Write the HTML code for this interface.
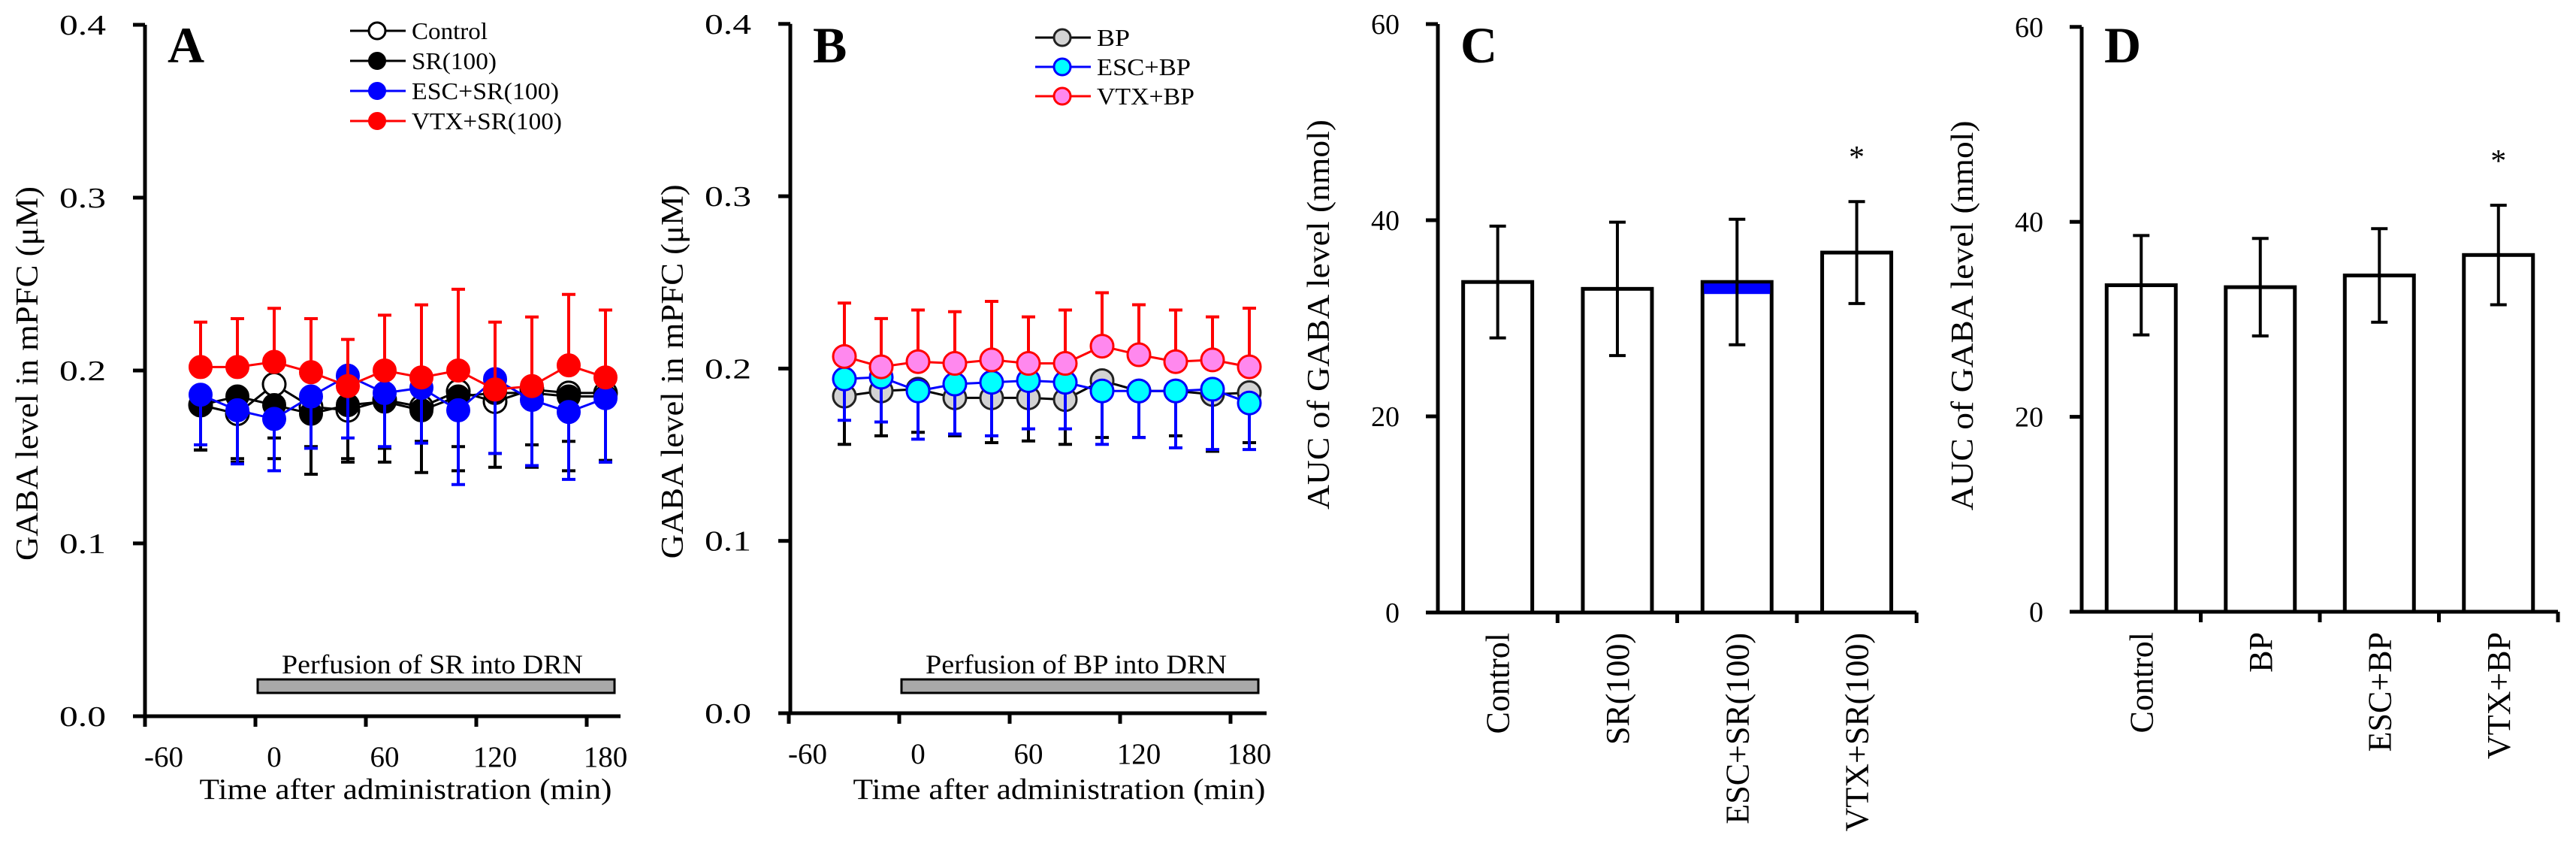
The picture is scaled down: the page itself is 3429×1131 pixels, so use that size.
<!DOCTYPE html>
<html><head><meta charset="utf-8"><style>
html,body{margin:0;padding:0;background:#fff;}
svg{display:block;font-family:"Liberation Serif",serif;}
</style></head><body>
<svg id="fig" width="3429" height="1131" viewBox="0 0 3429 1131" xmlns="http://www.w3.org/2000/svg">
<g id="pA"></g>
<g id="pB"></g>
<g id="pC"></g>
<g id="pD"></g>
</svg>
<script>
// ---------- data ----------
const times = [-40,-20,0,20,40,60,80,100,120,140,160,180];
const xTicks = [-60,0,60,120,180];
const yTicksLine = [0.0,0.1,0.2,0.3,0.4];
const yTicksBar = [0,20,40,60];
// Panel A
const aControl = [.180,.175,.192,.179,.177,.183,.179,.188,.182,.189,.187,.187];
const aControlErr = [.026,.028,.043,.023,.028,.028,.020,.046,.030,.045,.045,.040];
const aSR = [.180,.185,.180,.175,.180,.182,.177,.185,.187,.187,.185,.185];
const aSRErr = [.026,.036,.019,.035,.033,.035,.036,.029,.043,.030,.026,.037];
const aESC = [.186,.177,.172,.185,.197,.187,.190,.177,.195,.183,.176,.184];
const aESCErr = [.029,.031,.030,.030,.036,.031,.032,.043,.043,.038,.039,.037];
const aVTX = [.202,.202,.205,.199,.191,.200,.196,.200,.189,.191,.203,.196];
const aVTXErr = [.026,.028,.031,.031,.027,.032,.042,.047,.039,.040,.041,.039];
// Panel B
const bBP = [.184,.187,.188,.183,.183,.183,.182,.193,.187,.187,.185,.186];
const bBPErr = [.028,.026,.025,.022,.026,.025,.026,.033,.027,.026,.033,.029];
const bESC = [.194,.195,.187,.191,.192,.193,.192,.187,.187,.187,.188,.180];
const bESCErr = [.024,.026,.028,.029,.031,.028,.027,.031,.027,.033,.035,.027];
const bVTX = [.207,.201,.204,.203,.205,.203,.203,.213,.208,.204,.205,.201];
const bVTXErr = [.031,.028,.030,.030,.034,.027,.031,.031,.029,.030,.025,.034];
// Panel C
const cCats = ["Control","SR(100)","ESC+SR(100)","VTX+SR(100)"];
const cVals = [33.7,33.0,33.7,36.7];
const cErr = [5.7,6.8,6.4,5.2];
const cSig = [false,false,false,true];
// Panel D
const dCats = ["Control","BP","ESC+BP","VTX+BP"];
const dVals = [33.5,33.3,34.5,36.6];
const dErr = [5.1,5.0,4.8,5.1];
const dSig = [false,false,false,true];

const NS="http://www.w3.org/2000/svg";
function mk(parent,tag,attrs,txt){const e=document.createElementNS(NS,tag);for(const k in attrs)e.setAttribute(k,attrs[k]);if(txt!==undefined)e.textContent=txt;parent.appendChild(e);return e;}

function linePanel(g,o){
  const x=t=>o.x0+2.45*t, y=v=>o.y0-o.ky*v;
  let ax=mk(g,'path',{d:`M${o.ax} ${y(0.4)}V${y(0)}H${o.axEnd}`,fill:'none',stroke:'#000','stroke-width':5});
  
  yTicksLine.forEach(v=>{
    let t=mk(g,'line',{x1:o.ax-16,x2:o.ax,y1:y(v),y2:y(v),stroke:'#000','stroke-width':5});
    
    let l=mk(g,'text',{x:o.ax-52,y:y(v)+13,'text-anchor':'end','font-size':38,textLength:62,lengthAdjust:'spacingAndGlyphs'},v.toFixed(1));
    
  });
  xTicks.forEach(v=>{
    let t=mk(g,'line',{x1:x(v)-25,x2:x(v)-25,y1:y(0),y2:y(0)+14,stroke:'#000','stroke-width':5});
    
    let l=mk(g,'text',{x:x(v),y:y(0)+67,'text-anchor':'middle','font-size':39},String(v));
    
  });
  let xt=mk(g,'text',{x:o.xtX,y:1063,'text-anchor':'middle','font-size':39,textLength:549,lengthAdjust:'spacingAndGlyphs'},'Time after administration (min)');
  
  let yt=mk(g,'text',{x:0,y:0,'text-anchor':'middle','font-size':42,textLength:498,lengthAdjust:'spacingAndGlyphs',transform:`translate(${o.ax-143},${y(0.2)+4}) rotate(-90)`},'GABA level in mPFC (\u03bcM)');
  
  let pl=mk(g,'text',{x:o.ax+30,y:83,'font-size':68,'font-weight':'bold'},o.label);
  
  let pb=mk(g,'rect',{x:x(0)-22,y:904,width:x(180)+12-(x(0)-22),height:18,fill:'#a9a9a9',stroke:'#000','stroke-width':3});
  
  let pt=mk(g,'text',{x:(x(0)+x(180))/2-10,y:896,'text-anchor':'middle','font-size':36,textLength:401,lengthAdjust:'spacingAndGlyphs'},o.perf);
  
  o.series.forEach(s=>{
    const sg=mk(g,'g',{});
    
    let d=s.vals.map((v,i)=>(i?'L':'M')+x(times[i])+' '+y(v)).join('');
    let ln=mk(sg,'path',{d:d,fill:'none',stroke:s.line,'stroke-width':3});
    
    s.vals.forEach((v,i)=>{
      const cx=x(times[i]);const ye=y(v+s.dir*s.err[i]);
      let e=mk(sg,'path',{d:`M${cx} ${y(v)}V${ye}M${cx-9} ${ye}H${cx+9}`,stroke:s.line,'stroke-width':4,fill:'none'});
      
    });
    s.vals.forEach((v,i)=>{
      let c=mk(sg,'circle',{cx:x(times[i]),cy:y(v),r:15,fill:s.fill,stroke:s.stroke,'stroke-width':s.sw});
      
    });
  });
  o.legend.forEach((s,i)=>{
    const ly=o.lgY+i*o.lgDy;
    const lg=mk(g,'g',{});
    
    mk(lg,'line',{x1:o.lgX,x2:o.lgX+74,y1:ly,y2:ly,stroke:s.line,'stroke-width':3});
    mk(lg,'circle',{cx:o.lgX+36,cy:ly,r:11,fill:s.fill,stroke:s.stroke,'stroke-width':s.sw});
    mk(lg,'text',{x:o.lgX+82,y:ly+11,'font-size':32,textLength:s.tl,lengthAdjust:'spacingAndGlyphs'},s.name);
  });
}

const sA=[
 {key:'control',name:'Control',tl:101,vals:aControl,err:aControlErr,dir:-1,line:'#000',fill:'#fff',stroke:'#000',sw:3},
 {key:'sr100',name:'SR(100)',tl:113,vals:aSR,err:aSRErr,dir:-1,line:'#000',fill:'#000',stroke:'#000',sw:2},
 {key:'esc-sr100',name:'ESC+SR(100)',tl:196,vals:aESC,err:aESCErr,dir:-1,line:'#0000ff',fill:'#0000ff',stroke:'#0000ff',sw:2},
 {key:'vtx-sr100',name:'VTX+SR(100)',tl:200,vals:aVTX,err:aVTXErr,dir:1,line:'#ff0000',fill:'#ff0000',stroke:'#ff0000',sw:2}];
linePanel(document.getElementById('pA'),{x0:365,y0:953,ky:2300,ax:193,axEnd:826,xtX:540,label:'A',perf:'Perfusion of SR into DRN',series:sA,legend:sA,lgX:466,lgY:41,lgDy:40});
const sB=[
 {key:'bp',name:'BP',tl:44,vals:bBP,err:bBPErr,dir:-1,line:'#000',fill:'#d3d3d3',stroke:'#222',sw:3},
 {key:'esc-bp',name:'ESC+BP',tl:125,vals:bESC,err:bESCErr,dir:-1,line:'#0000ff',fill:'#00ffff',stroke:'#0000ff',sw:3},
 {key:'vtx-bp',name:'VTX+BP',tl:130,vals:bVTX,err:bVTXErr,dir:1,line:'#ff0000',fill:'#ff88ee',stroke:'#ff0000',sw:3}];
linePanel(document.getElementById('pB'),{x0:1222,y0:949,ky:2293,ax:1052,axEnd:1686,xtX:1410,label:'B',perf:'Perfusion of BP into DRN',series:sB,legend:sB,lgX:1378,lgY:50,lgDy:39});

function barPanel(g,o){
  const y=v=>o.y0-o.ky*v;
  let ax=mk(g,'path',{d:`M${o.ax} ${y(60)}V${y(0)}H${o.ax+o.step*4}`,fill:'none',stroke:'#000','stroke-width':5});
  
  yTicksBar.forEach(v=>{
    let t=mk(g,'line',{x1:o.ax-16,x2:o.ax,y1:y(v),y2:y(v),stroke:'#000','stroke-width':5});
    
    let l=mk(g,'text',{x:o.ax-51,y:y(v)+13,'text-anchor':'end','font-size':38},String(v));
    
  });
  for(let i=1;i<=4;i++){
    let t=mk(g,'line',{x1:o.ax+o.step*i,x2:o.ax+o.step*i,y1:y(0),y2:y(0)+14,stroke:'#000','stroke-width':5});
    
  }
  let yt=mk(g,'text',{x:0,y:0,'text-anchor':'middle','font-size':42,textLength:519,lengthAdjust:'spacingAndGlyphs',transform:`translate(${o.ax-145},${y(30)-5}) rotate(-90)`},'AUC of GABA level (nmol)');
  
  let pl=mk(g,'text',{x:o.ax+30,y:83,'font-size':68,'font-weight':'bold'},o.label);
  
  o.cats.forEach((c,i)=>{
    const cx=o.ax+o.step*(i+0.5);
    let b=mk(g,'rect',{x:cx-46,y:y(o.vals[i]),width:92,height:y(0)-y(o.vals[i]),fill:'#fff',stroke:'#000','stroke-width':5});
    
    if(o.blue&&i===2){let bb=mk(g,'rect',{x:cx-44,y:y(o.vals[i])+2,width:88,height:14,fill:'#0000ff'});}
    let e=mk(g,'path',{d:`M${cx} ${y(o.vals[i]+o.err[i])}V${y(o.vals[i]-o.err[i])}M${cx-11} ${y(o.vals[i]+o.err[i])}H${cx+11}M${cx-11} ${y(o.vals[i]-o.err[i])}H${cx+11}`,stroke:'#000','stroke-width':4,fill:'none'});
    
    if(o.sig[i]){let s=mk(g,'text',{x:cx,y:y(o.vals[i]+o.err[i])-45,'text-anchor':'middle','font-size':42},'*');}
    let l=mk(g,'text',{x:0,y:0,'text-anchor':'end','font-size':44,transform:`translate(${cx+15},${y(0)+27}) rotate(-90)`},c);
    
  });
}
barPanel(document.getElementById('pC'),{ax:1914,step:159.3,y0:815,ky:13.05,cats:cCats,vals:cVals,err:cErr,sig:cSig,label:'C',blue:true});
barPanel(document.getElementById('pD'),{ax:2771,step:158.5,y0:814,ky:12.97,cats:dCats,vals:dVals,err:dErr,sig:dSig,label:'D',blue:false});
</script>
</body></html>
